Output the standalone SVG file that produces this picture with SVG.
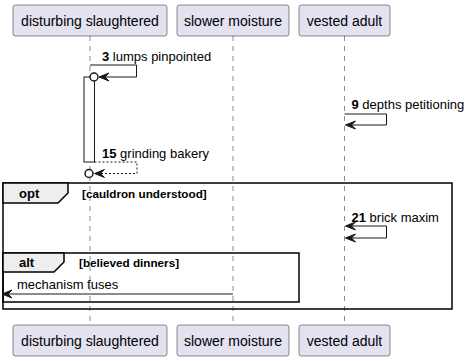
<svg xmlns="http://www.w3.org/2000/svg" width="470" height="361" viewBox="0 0 470 361">
  <style>
    .box { fill: #E2E2F0; stroke: #181818; stroke-width: 0.5; }
    .pname { font-family: "Liberation Sans", Arial, sans-serif; font-size: 14px; fill: #000000; text-anchor: middle; }
    .life { stroke: #181818; stroke-width: 0.5; stroke-dasharray: 5,5; fill: none; }
    .msg { stroke: #181818; stroke-width: 1; fill: none; }
    .dash { stroke-dasharray: 2,2; }
    .head { fill: #181818; stroke: #181818; stroke-width: 1; }
    .circ { fill: #FFFFFF; stroke: #181818; stroke-width: 1.5; }
    .act { fill: #FFFFFF; stroke: #181818; stroke-width: 1; }
    .label { font-family: "Liberation Sans", Arial, sans-serif; font-size: 13px; fill: #000000; }
    .num { font-weight: bold; }
    .frame { fill: none; stroke: #000000; stroke-width: 1.5; }
    .tab { fill: #EEEEEE; stroke: #000000; stroke-width: 1.5; }
    .kw { font-family: "Liberation Sans", Arial, sans-serif; font-size: 13px; font-weight: bold; fill: #000000; }
    .cond { font-family: "Liberation Sans", Arial, sans-serif; font-size: 11.7px; font-weight: bold; fill: #000000; }
  </style>
  <defs>
    <polygon id="arrowL" points="0,0 10,-4 6,0 10,4"/>
  </defs>

  <!-- lifelines -->
  <g id="lifelines">
    <line class="life" x1="90" y1="36" x2="90" y2="325"/>
    <line class="life" x1="233" y1="36" x2="233" y2="325"/>
    <line class="life" x1="344.5" y1="36" x2="344.5" y2="325"/>
  </g>

  <!-- combined fragments -->
  <g id="frame-opt">
    <rect class="frame" x="3" y="183" width="449" height="126"/>
    <path class="tab" d="M3,183 L68,183 L68,193 L58,203 L3,203 Z"/>
    <text class="kw" x="19" y="198">opt</text>
    <text class="cond" x="82" y="197.5">[cauldron understood]</text>
  </g>
  <g id="frame-alt">
    <rect class="frame" x="3" y="253" width="296" height="49"/>
    <path class="tab" d="M3,253 L64,253 L64,262 L54,272 L3,272 Z"/>
    <text class="kw" x="19" y="267">alt</text>
    <text class="cond" x="79" y="266.5">[believed dinners]</text>
  </g>

  <!-- activation bar -->
  <g id="activation">
    <rect class="act" x="84" y="77" width="10.5" height="85"/>
  </g>

  <!-- participants -->
  <g id="p-disturbing">
    <rect class="box" x="13" y="5" width="154" height="31" rx="2.5"/>
    <text class="pname" x="90" y="25.5">disturbing slaughtered</text>
    <rect class="box" x="13" y="325" width="154" height="31" rx="2.5"/>
    <text class="pname" x="90" y="345.5">disturbing slaughtered</text>
  </g>
  <g id="p-slower">
    <rect class="box" x="177" y="5" width="112" height="31" rx="2.5"/>
    <text class="pname" x="233" y="25.5">slower moisture</text>
    <rect class="box" x="177" y="325" width="112" height="31" rx="2.5"/>
    <text class="pname" x="233" y="345.5">slower moisture</text>
  </g>
  <g id="p-vested">
    <rect class="box" x="299" y="5" width="91" height="31" rx="2.5"/>
    <text class="pname" x="344.5" y="25.5">vested adult</text>
    <rect class="box" x="299" y="325" width="91" height="31" rx="2.5"/>
    <text class="pname" x="344.5" y="345.5">vested adult</text>
  </g>

  <!-- messages -->
  <g id="connectors">
    <!-- 3 lumps pinpointed -->
    <polyline class="msg" points="90,65 136.5,65 136.5,77 100,77"/>
    <use href="#arrowL" class="head" x="99" y="77"/>
    <circle class="circ" cx="94" cy="77" r="4"/>
    <text class="label" x="102" y="60.5"><tspan class="num">3</tspan> lumps pinpointed</text>

    <!-- 9 depths petitioning -->
    <polyline class="msg" points="344.5,114 386.5,114 386.5,125 346,125"/>
    <use href="#arrowL" class="head" x="345.5" y="125"/>
    <text class="label" x="351.5" y="109"><tspan class="num">9</tspan> depths petitioning</text>

    <!-- 15 grinding bakery -->
    <polyline class="msg dash" points="94.5,162 137,162 137,173.5 95,173.5"/>
    <use href="#arrowL" class="head" x="94.5" y="173.5"/>
    <circle class="circ" cx="89" cy="173.5" r="4"/>
    <text class="label" x="102" y="157.5"><tspan class="num">15</tspan> grinding bakery</text>

    <!-- 21 brick maxim -->
    <polyline class="msg" points="346,226 386.5,226 386.5,238 346,238"/>
    <use href="#arrowL" class="head" x="345.5" y="226"/>
    <use href="#arrowL" class="head" x="345.5" y="238"/>
    <text class="label" x="351.5" y="221.5"><tspan class="num">21</tspan> brick maxim</text>

    <!-- mechanism fuses -->
    <line class="msg" x1="233" y1="294" x2="3" y2="294"/>
    <use href="#arrowL" class="head" x="2" y="294"/>
    <text class="label" x="17" y="289">mechanism fuses</text>
  </g>
</svg>
